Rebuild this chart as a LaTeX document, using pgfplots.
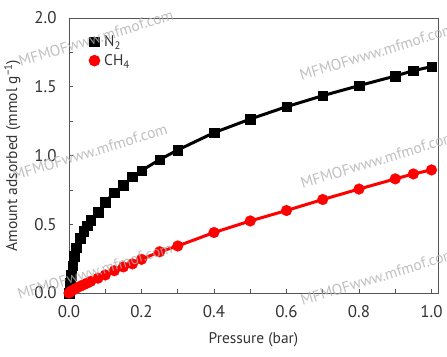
\documentclass[border=0pt]{standalone}
\usepackage{fontspec}
\setmainfont{PT Sans}
\usepackage{pgfplots}
\pgfplotsset{compat=1.18}
\definecolor{axgray}{HTML}{555555}
\definecolor{txtgray}{HTML}{333333}
\definecolor{wm}{HTML}{B0B0B0}
\begin{document}
\begin{tikzpicture}[x=1bp,y=1bp]
\useasboundingbox (0,0) rectangle (447,356);
\begin{axis}[
  at={(69bp,63bp)}, anchor=south west,
  width=369bp, height=275bp, scale only axis,
  xmin=0, xmax=1.018, ymin=0, ymax=2.0,
  xtick={0,0.2,...,1.0}, minor xtick={0.1,0.3,...,0.9},
  ytick={0,0.5,...,2.0}, minor ytick={0.25,0.75,...,1.75},
  xticklabel style={/pgf/number format/fixed,/pgf/number format/fixed zerofill,/pgf/number format/precision=1, yshift=-9bp},
  yticklabel style={/pgf/number format/fixed,/pgf/number format/fixed zerofill,/pgf/number format/precision=1, xshift=-9bp},
  /pgf/number format/assume math mode=true,
  tick align=inside, xtick pos=bottom, ytick pos=left,
  major tick length=4bp, minor tick length=4bp,
  every tick/.style={axgray, line width=0.6bp},
  axis line style={axgray, line width=0.8bp},
  tick label style={font=\fontsize{17}{19}\selectfont, text=txtgray},
  label style={font=\fontsize{15.5}{18}\selectfont, text=txtgray},
  xlabel={Pressure (bar)},
  ylabel={Amount adsorbed (mmol g\textsuperscript{−1})},
  xlabel style={at={(0.5,0)}, anchor=north, yshift=-36bp},
  ylabel style={at={(0,0.5)}, anchor=south, yshift=45bp, xshift=0bp},
  legend style={at={(0.045,0.95)}, anchor=north west, draw=none, fill=none,
    font=\fontsize{15.5}{18}\selectfont, text=txtgray, row sep=2bp,
    legend cell align=left, nodes={inner xsep=4bp}},
  clip=false,
]
\addplot[black, line width=3bp, mark=square*, mark size=4.8bp, mark options={solid, line width=0.3bp},
  legend image code/.code={\fill[black] (0.1cm,0cm) ++(-3.6bp,-3.6bp) rectangle ++(7.2bp,7.2bp);}] coordinates {
(0,0) (0.003,0.07) (0.006,0.13) (0.01,0.20) (0.015,0.27) (0.02,0.33)
(0.03,0.40) (0.04,0.45) (0.05,0.49) (0.06,0.53) (0.08,0.59) (0.1,0.66)
(0.125,0.73) (0.15,0.785) (0.175,0.845) (0.2,0.89) (0.25,0.97) (0.3,1.04)
(0.4,1.166) (0.5,1.265) (0.6,1.355) (0.7,1.435) (0.8,1.508) (0.9,1.578)
(0.95,1.617) (1.0,1.646)
};
\addlegendentry{N\textsubscript{2}}
\addplot[red, line width=3bp, mark=*, mark size=5.4bp, mark options={solid, line width=0.3bp},
  legend image code/.code={\fill[red] (0.1cm,0cm) circle (4.2bp);}] coordinates {
(0,0) (0.005,0.012) (0.01,0.02) (0.02,0.035) (0.03,0.048) (0.04,0.06)
(0.05,0.072) (0.06,0.085) (0.08,0.108) (0.1,0.131) (0.125,0.162)
(0.15,0.19) (0.175,0.212) (0.2,0.245) (0.25,0.30) (0.3,0.342)
(0.4,0.44) (0.5,0.524) (0.6,0.60) (0.7,0.68) (0.8,0.756) (0.9,0.83)
(0.95,0.866) (1.0,0.895)
};
\addlegendentry{CH\textsubscript{4}}
\end{axis}
\begin{scope}[every node/.style={text=wm, opacity=0.8, rotate=17, font=\fontsize{15.5}{17}\selectfont}]
\node at (96,318) {MFMOFwww.mfmof.com};
\node at (90,204) {MFMOFwww.mfmof.com};
\node at (95,85) {MFMOFwww.mfmof.com};
\node at (377,304) {MFMOFwww.mfmof.com};
\node at (378,196) {MFMOFwww.mfmof.com};
\node at (378,79) {MFMOFwww.mfmof.com};
\end{scope}
\end{tikzpicture}
\end{document}
